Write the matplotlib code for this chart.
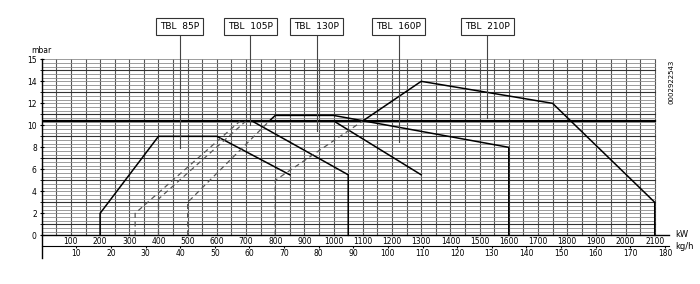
import matplotlib.pyplot as plt
import numpy as np

KW_PER_KGH = 11.86  # light oil, kWh per kg

# burner working curves, output in kW vs chamber pressure in mbar
tbl85_kw = [200, 200, 400, 600, 850]
tbl85_mbar = [0, 2, 9, 9, 5.5]

tbl105_dash_kw = [320, 320, 680]
tbl105_dash_mbar = [0, 2, 10.4]
tbl105_kw = [680, 720, 1050, 1050]
tbl105_mbar = [10.4, 10.4, 5.5, 0]

tbl130_dash_kw = [400, 400, 700]
tbl130_dash_mbar = [0, 3.3, 10.4]
tbl130_kw = [700, 1000, 1300]
tbl130_mbar = [10.4, 10.4, 5.5]

tbl160_dash_kw = [500, 500, 780]
tbl160_dash_mbar = [0, 3, 10.4]
tbl160_kw = [780, 800, 1000, 1600, 1600]
tbl160_mbar = [10.4, 10.9, 10.9, 8, 0]

tbl210_dash_kw = [800, 800, 1100]
tbl210_dash_mbar = [0, 5, 10.4]
tbl210_kw = [1100, 1300, 1750, 2100, 2100]
tbl210_mbar = [10.4, 14, 12, 3, 0]

ref_line_mbar = 10.4

models = ['TBL  85P', 'TBL  105P', 'TBL  130P', 'TBL  160P', 'TBL  210P']
label_kw = [473, 714, 942, 1223, 1526]
pointer_mbar = [7.9, 10.0, 9.5, 8.5, 10.7]

kw_ticks = list(range(100, 2101, 100))
kgh_ticks = list(range(10, 181, 10))
mbar_ticks = [0, 2, 4, 6, 8, 10, 12, 14, 16]
mbar_labels = ['0', '2', '4', '6', '8', '10', '12', '14', '15']

fig = plt.figure(figsize=(7, 2.84), dpi=100)
ax = fig.add_axes([0.0596, 0.0901, 0.8966, 0.701])
ax.set_xlim(0, 2150)
ax.set_ylim(-2.1, 16)

# grid, drawn by hand so it stops at 2100 kW / 16 mbar
for x in np.arange(0, 2101, 50):
    ax.plot([x, x], [0, 16], color='#555555', lw=0.8, zorder=1)
for i, y in enumerate(np.arange(0, 16.01, 1 / 3)):
    dark = (i % 6 == 3)
    ax.plot([0, 2100], [y, y], color='#333333' if dark else '#8c8c8c',
            lw=0.8 if dark else 0.6, zorder=1)
ax.plot([0, 2100], [ref_line_mbar, ref_line_mbar], color='black', lw=1.6, zorder=2)

solid = dict(color='black', lw=1.1, zorder=3)
dashed = dict(color='#555555', lw=0.9, ls=(0, (4, 3)), zorder=3)

ax.plot(tbl85_kw, tbl85_mbar, **solid)
ax.plot(tbl105_dash_kw, tbl105_dash_mbar, **dashed)
ax.plot(tbl105_kw, tbl105_mbar, **solid)
ax.plot(tbl130_dash_kw, tbl130_dash_mbar, **dashed)
ax.plot(tbl130_kw, tbl130_mbar, **solid)
ax.plot(tbl160_dash_kw, tbl160_dash_mbar, **dashed)
ax.plot(tbl160_kw, tbl160_mbar, **solid)
ax.plot(tbl210_dash_kw, tbl210_dash_mbar, **dashed)
ax.plot(tbl210_kw, tbl210_mbar, **solid)

# model labels with pointers
for name, xk, yp in zip(models, label_kw, pointer_mbar):
    ax.plot([xk, xk], [18.2, yp], color='#444444', lw=0.8, clip_on=False, zorder=4)
    ax.text(xk, 19.0, name, ha='center', va='center', fontsize=6.5, clip_on=False,
            bbox=dict(boxstyle='square,pad=0.45', fc='white', ec='#333333', lw=0.8),
            zorder=5)

# axes styling
ax.spines['top'].set_visible(False)
ax.spines['right'].set_visible(False)
ax.spines['bottom'].set_position(('data', 0))
ax.spines['bottom'].set_linewidth(1.0)
ax.spines['left'].set_linewidth(1.0)

ax.set_xticks(kw_ticks)
ax.tick_params(axis='x', length=0, pad=1.5, labelsize=5.5)
ax.set_yticks(mbar_ticks)
ax.set_yticklabels(mbar_labels)
ax.set_yticks(range(1, 16, 2), minor=True)
ax.tick_params(axis='y', which='both', direction='inout', length=3, pad=2, labelsize=5.5)

sec = ax.secondary_xaxis(2.1 / 18.1 - 1.0 / 18.1,
                         functions=(lambda k: k / KW_PER_KGH, lambda g: g * KW_PER_KGH))
sec.set_xticks(kgh_ticks)
sec.tick_params(axis='x', length=1.5, pad=0.5, labelsize=5.5)

ax.text(0, 16.8, 'mbar', ha='center', va='center', fontsize=5.5, clip_on=False)
ax.text(2170, 0.1, 'kW', ha='left', va='center', fontsize=6, clip_on=False)
ax.text(2170, -1.05, 'kg/h', ha='left', va='center', fontsize=6, clip_on=False)
ax.text(2159, 14.0, '0002922543', rotation=90, ha='center', va='center',
        fontsize=5, clip_on=False)

plt.savefig('out.png', dpi=100)
